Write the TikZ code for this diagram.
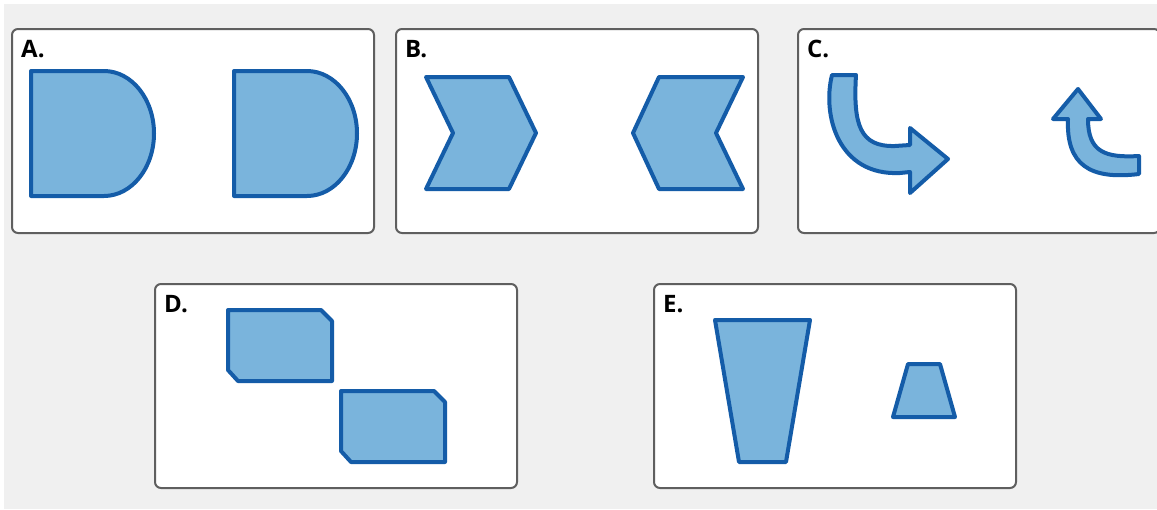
\documentclass[tikz,border=0pt]{standalone}
\usepackage{fontspec}
\setmainfont{Open Sans}
\usetikzlibrary{positioning}
\definecolor{bgGray}{RGB}{240,240,240}
\definecolor{frameGray}{RGB}{95,95,95}
\definecolor{shapeLine}{RGB}{20,92,168}
\definecolor{shapeFill}{RGB}{122,180,220}

\begin{document}
\begin{tikzpicture}[x=1pt, y=-1pt,
    panel/.style={draw=frameGray, line width=2pt, fill=white, rounded corners=6pt},
    shp/.style={draw=shapeLine, fill=shapeFill, line width=4pt, line join=round},
    tag/.style={anchor=base west, inner sep=0pt, font=\fontsize{24}{24}\selectfont\bfseries}]
  \useasboundingbox (0,0) rectangle (1157,509);
  \fill[bgGray] (4,4) rectangle (1157,509);
  % Panels
  \foreach \x/\y/\lab in {12/29/A, 396/29/B, 798/29/C, 155/284/D, 654/284/E} {
    \draw[panel] (\x,\y) rectangle ++(362,204);
    \node[tag] (tag\lab) at (\x+9,\y+28) {\lab.};
  }
  % A: half-round shapes
  \foreach \x in {31, 234} {
    \draw[shp] (\x,71) -- (\x+73,71)
      arc[start angle=-90, end angle=90, x radius=50, y radius=62.5]
      -- (\x,196) -- cycle;
  }
  % B: chevrons
  \draw[shp] (426,77) -- (509,77) -- (536,133) -- (509,189) -- (426,189) -- (453,133) -- cycle;
  \draw[shp] (743,77) -- (659,77) -- (633,133) -- (659,189) -- (743,189) -- (716,133) -- cycle;
  % C: curved arrows
  \draw[shp] (832,75) -- (856,75) .. controls (853,125) and (860,147) .. (895,146)
    -- (910,145) -- (910,128) -- (948,159) -- (910,193) -- (910,172) -- (900,173)
    .. controls (838,176) and (822,115) .. (832,75) -- cycle;
  \draw[shp] (1078,89) -- (1101,119) -- (1088,119) .. controls (1088,152) and (1105,158) .. (1139,156)
    -- (1139,174) .. controls (1090,180) and (1066,165) .. (1068,119) -- (1053,119) -- cycle;
  % D: cut-corner boxes
  \foreach \x/\y in {228/310, 341/391} {
    \draw[shp] (\x,\y) -- (\x+93,\y) -- (\x+104,\y+11) -- (\x+104,\y+71)
      -- (\x+10,\y+71) -- (\x,\y+60) -- cycle;
  }
  % E: trapezoids
  \draw[shp] (715,320) -- (810,320) -- (786,462) -- (739,462) -- cycle;
  \draw[shp] (908,364) -- (940,364) -- (955,417) -- (893,417) -- cycle;
\end{tikzpicture}
\end{document}
